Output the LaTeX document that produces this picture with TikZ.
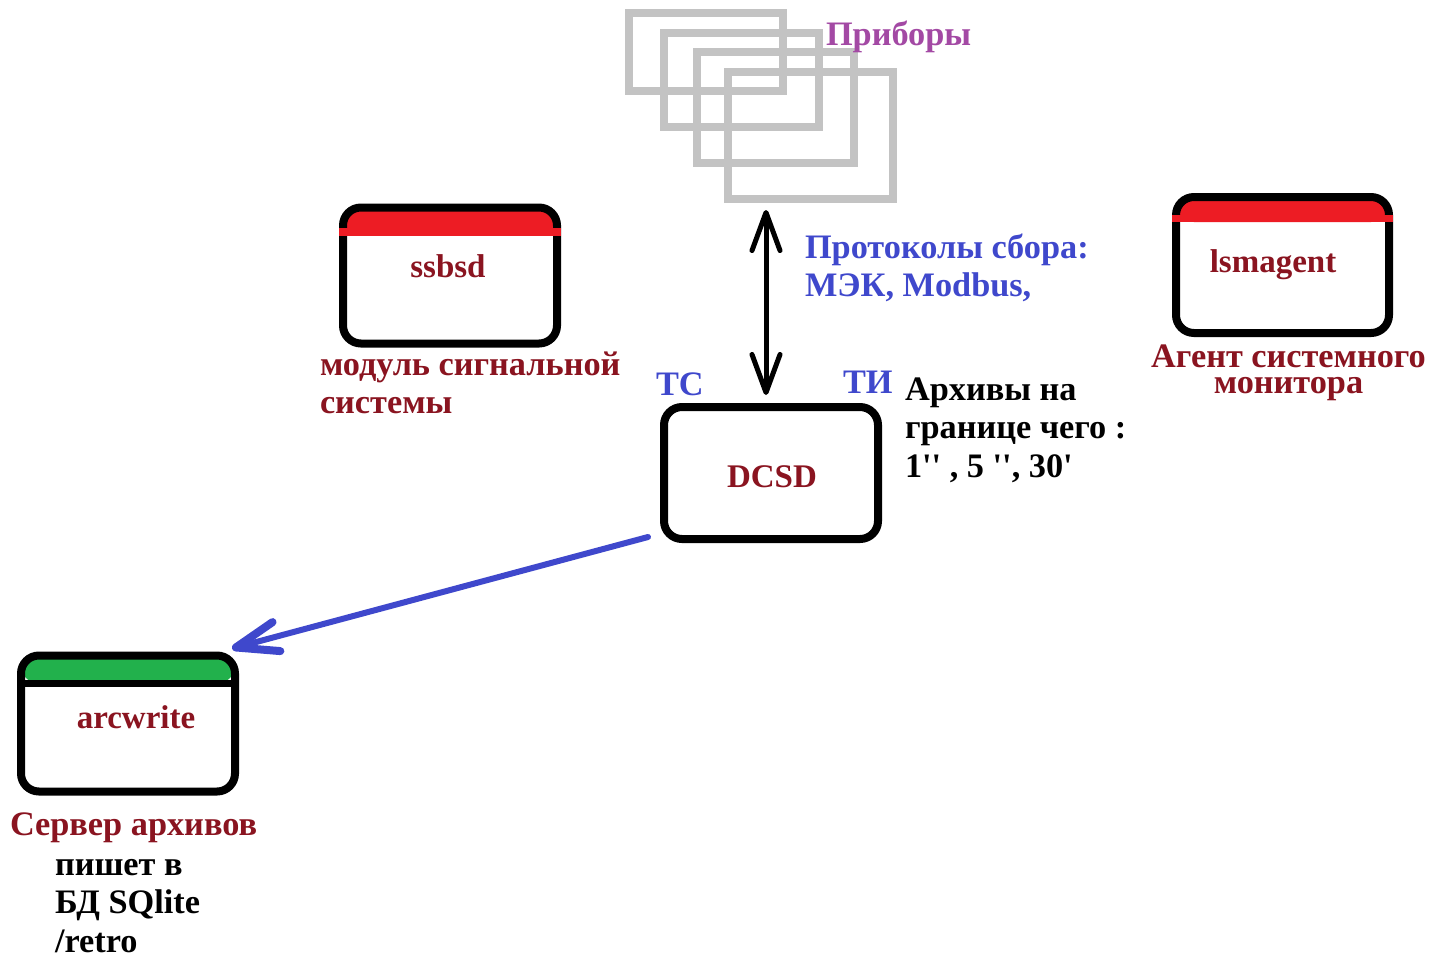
\documentclass[tikz,border=0pt]{standalone}
\usepackage{fontspec}
\newfontfamily\diagfont{Liberation Serif}
\usetikzlibrary{arrows.meta}
\definecolor{bandred}{HTML}{ED1C24}
\definecolor{bandgreen}{HTML}{22B14C}
\definecolor{labelred}{HTML}{8A1420}
\definecolor{flowblue}{HTML}{3F48CC}
\definecolor{devpurple}{HTML}{A349A4}
\definecolor{devgray}{HTML}{C3C3C3}
\newcommand\lnstrut{\rule{0pt}{26pt}}
\begin{document}
\begin{tikzpicture}[x=1pt,y=-1pt,
  txt/.style={font=\diagfont\bfseries\fontsize{33}{38.5}\selectfont, inner sep=0pt, outer sep=0pt},
  cyr/.style={txt, font=\diagfont\bfseries\fontsize{34.3}{38.5}\selectfont},
  proc/.style={draw=black, fill=white, line width=8pt, rounded corners=18pt,
    inner sep=0pt, outer sep=0pt, minimum width=214pt, minimum height=136pt},
  topband/.style 2 args={path picture={\fill[#1] (path picture bounding box.north west)
    rectangle ([yshift=-#2]path picture bounding box.north east);}},
  device/.style={draw=devgray, line width=8pt, inner sep=0pt, outer sep=0pt},
  busarrow/.style={line width=5pt, line cap=round,
    {Straight Barb[round,length=38pt,width=28pt]}-{Straight Barb[round,length=38pt,width=28pt]}},
  flowarrow/.style={draw=flowblue, line width=6pt, line cap=round,
    -{Straight Barb[round,length=42pt,width=30pt,line width=8pt]}}
]
\fill[white] (0,0) rectangle (1431,959);
\useasboundingbox (0,0) rectangle (1431,959);

% field devices
\node[device, minimum width=154pt, minimum height=78pt]  (dev1) at (706,52) {};
\node[device, minimum width=155pt, minimum height=94pt]  (dev2) at (741.5,80) {};
\node[device, minimum width=157pt, minimum height=111pt] (dev3) at (775.5,107.5) {};
\node[device, minimum width=165pt, minimum height=127pt] (dev4) at (810.5,135.5) {};
\node[cyr, text=devpurple, anchor=base west] (tDev) at (826,45) {Приборы};

% processes
\node[proc, topband={bandred}{28pt}] (ssbsd) at (450,275.5) {};
\fill[bandred] ([xshift=-4pt,yshift=-20pt]ssbsd.north west) rectangle ([xshift=4pt,yshift=-28pt]ssbsd.north east);
\node[proc, minimum width=213pt, topband={bandred}{25pt}] (lsmagent) at (1282.5,265) {};
\fill[bandred] ([xshift=-4pt,yshift=-18pt]lsmagent.north west) rectangle ([xshift=4pt,yshift=-25pt]lsmagent.north east);
\node[proc, topband={bandgreen}{28pt}] (arcwrite) at (128,723.5) {};
\draw[line width=7pt] ([yshift=-27.5pt]arcwrite.north west) -- ([yshift=-27.5pt]arcwrite.north east);
\node[proc, minimum height=132pt] (dcsd) at (771,473) {};

% box captions
\node[txt, text=labelred, anchor=base] (lSs)   at (448,277)  {ssbsd};
\node[txt, text=labelred, anchor=base] (lLsm)  at (1273,272) {lsmagent};
\node[txt, text=labelred, anchor=base] (lDcsd) at (772,487)  {DCSD};
\node[txt, text=labelred, anchor=base] (lArc)  at (136,728)  {arcwrite};

% descriptions
\node[cyr, text=labelred, anchor=north west, align=left] (tSs) at (320,349)
  {\lnstrut модуль сигнальной\\системы};
\node[cyr, font=\diagfont\bfseries\fontsize{34.3}{26}\selectfont, text=labelred,
  anchor=north, align=center] (tLsm) at (1288.5,341)
  {\lnstrut Агент системного\\монитора};
\node[cyr, text=labelred, anchor=base west] (tArc1) at (10,835) {Сервер архивов};
\node[cyr, anchor=north west, align=left] (tArc2) at (55,849)
  {\lnstrut пишет в\\БД SQlite\\/retro};
\node[cyr, text=flowblue, anchor=north west, align=left] (tProto) at (805,232)
  {\lnstrut Протоколы сбора:\\МЭК, Modbus,};
\node[cyr, text=flowblue, anchor=base west] (tTS) at (656,395) {ТС};
\node[cyr, text=flowblue, anchor=base west] (tTI) at (843,393) {ТИ};
\node[cyr, anchor=north west, align=left] (tArch) at (905,374)
  {\lnstrut Архивы на\\границе чего :\\1'' , 5 '', 30'};

% connectors
\draw[busarrow] ([xshift=-5pt,yshift=-11pt]dev4.south -| dcsd.north) -- ([xshift=-5pt,yshift=12pt]dcsd.north);
\draw[flowarrow] ([xshift=-16pt,yshift=2pt]dcsd.south west) -- ([xshift=-3pt,yshift=7pt]arcwrite.north east);
\end{tikzpicture}
\end{document}
